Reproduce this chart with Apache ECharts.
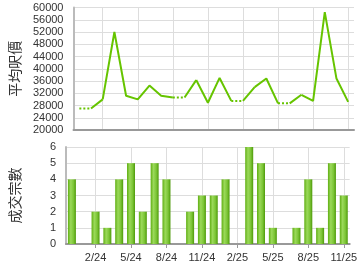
<!DOCTYPE html>
<html><head><meta charset="utf-8">
<script src="https://cdn.jsdelivr.net/npm/echarts@6/dist/echarts.min.js"></script>
<style>html,body{margin:0;padding:0;background:#fff}#c{width:360px;height:270px}</style>
</head><body><div id="c"></div>
<script>
const categories = ['12/23','1/24','2/24','3/24','4/24','5/24','6/24','7/24','8/24','9/24','10/24','11/24','12/24','1/25','2/25','3/25','4/25','5/25','6/25','7/25','8/25','9/25','10/25','11/25'];
const avgPrice = [27000, null, 30000, 52000, 31200, 30000, 34500, 31200, 30600, null, 36300, 28900, 37000, 29500, null, 34000, 36800, 28700, null, 31500, 29500, 58500, 36800, 29200];
const dealCount = [4, 0, 2, 1, 4, 5, 2, 5, 4, 0, 2, 3, 3, 4, 0, 6, 5, 1, 0, 1, 4, 1, 5, 3];
const priceTicks = {min: 20000, max: 60000, interval: 4000};
const countTicks = {min: 0, max: 6, interval: 1};

// carry forward value for months without data
const carried = avgPrice.map((v) => v);
for (let i = 1; i < carried.length; i++) if (carried[i] === null) carried[i] = carried[i - 1];
const dottedSeg = avgPrice.map(() => null);
const solidAfter = avgPrice.map(() => null);
avgPrice.forEach((v, i) => {
  if (v === null && i > 0) {
    dottedSeg[i - 1] = carried[i - 1];
    dottedSeg[i] = carried[i];
    solidAfter[i] = carried[i];
    if (i + 1 < carried.length) solidAfter[i + 1] = carried[i + 1];
  }
});

const green = '#66c400';
const labelIdx = (idx) => idx % 3 === 2;
const font = 'Arial, "Liberation Sans", sans-serif';
const cjk = '"Noto Sans CJK TC", sans-serif';
const plain = (v) => String(v);

const chart = echarts.init(document.getElementById('c'), null, {renderer: 'canvas'});
chart.setOption({
  animation: false,
  grid: [
    {left: 65, right: 6, top: 7.5, height: 122.5},
    {left: 65, right: 6, top: 147, height: 97}
  ],
  xAxis: [
    {type: 'category', gridIndex: 0, data: categories, boundaryGap: true,
     axisLine: {lineStyle: {color: '#999', width: 2}},
     axisTick: {show: false}, axisLabel: {show: false},
     splitLine: {show: true, interval: labelIdx, alignWithLabel: true, lineStyle: {color: '#ddd'}}},
    {type: 'category', gridIndex: 1, data: categories, boundaryGap: true,
     axisLine: {lineStyle: {color: '#999', width: 2}},
     axisTick: {show: true, interval: labelIdx, alignWithLabel: true, length: 4, lineStyle: {color: '#999'}},
     axisLabel: {interval: labelIdx, color: '#333', fontSize: 11, fontFamily: font, margin: 8},
     splitLine: {show: true, interval: labelIdx, alignWithLabel: true, lineStyle: {color: '#ddd'}}}
  ],
  yAxis: [
    {type: 'value', gridIndex: 0, min: priceTicks.min, max: priceTicks.max, interval: priceTicks.interval,
     name: '平均呎價', nameLocation: 'middle', nameRotate: 90, nameGap: 44,
     nameTextStyle: {fontSize: 14, color: '#333', fontFamily: cjk},
     axisLine: {show: true, lineStyle: {color: '#bbb', width: 2}}, axisTick: {show: false},
     axisLabel: {color: '#333', fontSize: 11, fontFamily: font, margin: 10, formatter: plain},
     splitLine: {lineStyle: {color: '#ddd'}}},
    {type: 'value', gridIndex: 1, min: countTicks.min, max: countTicks.max, interval: countTicks.interval,
     name: '成交宗數', nameLocation: 'middle', nameRotate: 90, nameGap: 44,
     nameTextStyle: {fontSize: 14, color: '#333', fontFamily: cjk},
     axisLine: {show: true, lineStyle: {color: '#bbb', width: 2}}, axisTick: {show: false},
     axisLabel: {color: '#333', fontSize: 11, fontFamily: font, margin: 10, formatter: plain},
     splitLine: {lineStyle: {color: '#ddd'}}}
  ],
  series: [
    {type: 'line', xAxisIndex: 0, yAxisIndex: 0, data: avgPrice, showSymbol: false, symbol: 'none',
     lineStyle: {color: green, width: 2}, connectNulls: false},
    {type: 'line', xAxisIndex: 0, yAxisIndex: 0, data: solidAfter, showSymbol: false, symbol: 'none',
     lineStyle: {color: green, width: 2}, connectNulls: false},
    {type: 'line', xAxisIndex: 0, yAxisIndex: 0, data: dottedSeg, showSymbol: false, symbol: 'none',
     lineStyle: {color: green, width: 2, type: [2, 2]}, connectNulls: false},
    {type: 'bar', xAxisIndex: 1, yAxisIndex: 1, data: dealCount, barWidth: 8,
     itemStyle: {color: new echarts.graphic.LinearGradient(0, 0, 1, 0, [
       {offset: 0, color: '#5fae12'}, {offset: 0.35, color: '#9bd95a'},
       {offset: 0.7, color: '#7cc536'}, {offset: 1, color: '#4e9a0a'}])}}
  ]
});
</script></body></html>
